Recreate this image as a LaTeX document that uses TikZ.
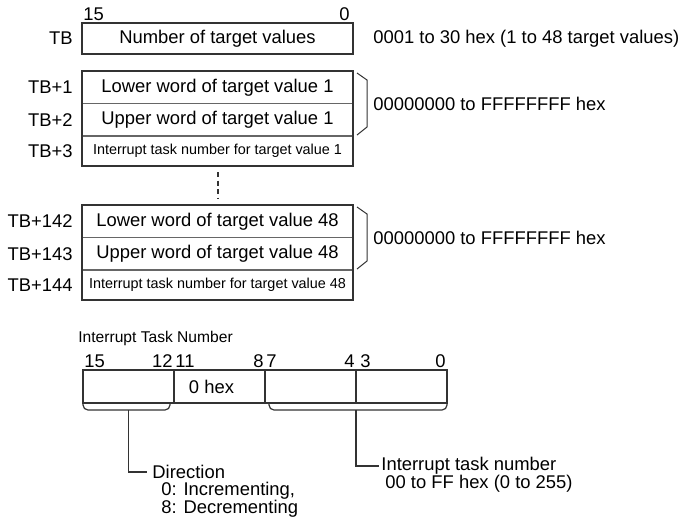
\documentclass[tikz,border=0pt]{standalone}
\usepackage{fontspec}
\setmainfont{Liberation Sans}
\usepackage{xcolor}
\usetikzlibrary{positioning}
\definecolor{lnc}{HTML}{333333}
\definecolor{dvc}{HTML}{666666}

\begin{document}
\begin{tikzpicture}[x=0.5pt, y=-0.5pt,
  cell/.style  = {minimum width=135.5pt, minimum height=16.25pt, inner sep=0pt,
                  outer sep=0pt, font=\fontsize{9.2}{11}\selectfont},
  small/.style = {font=\fontsize{7.2}{9}\selectfont},
  frame/.style = {draw=lnc, line width=1pt},
  divd/.style  = {draw=dvc, line width=0.6pt},
  addr/.style  = {inner sep=1pt, font=\fontsize{9.2}{11}\selectfont},
  note/.style  = {inner sep=1pt, anchor=west, font=\fontsize{9.2}{11}\selectfont},
  bit/.style   = {inner sep=0.5pt, font=\fontsize{9.2}{11}\selectfont},
  brk/.style   = {draw=lnc, line width=0.5pt},
  field/.style = {draw=lnc, line width=0.7pt, minimum width=45.5pt, minimum height=16.5pt,
                  inner sep=0pt, outer sep=0pt, font=\fontsize{9.2}{11}\selectfont},
  brc/.style   = {draw=lnc, line width=0.6pt, rounded corners=2.5pt},
  lead/.style  = {draw=lnc, line width=0.6pt}
]
\useasboundingbox (0,0) rectangle (683,520);

% --- TB : nombre de valeurs ---
\node[cell, frame, minimum height=15.5pt] (tb) at (217.5,38.5) {Number of target values};
\node[bit, anchor=base west] (tbh) at ([yshift=1.5pt]tb.north west) {15};
\node[bit, anchor=base east] (tbl) at ([xshift=-1pt,yshift=1.5pt]tb.north east) {0};
\node[addr, left=3.5pt of tb] (a0) {TB};
\node[note] (cnt) at ([xshift=9pt]tb.east) {0001 to 30 hex (1 to 48 target values)};

% --- valeur cible 1 ---
\node[cell] (lo1) at (217.5,87.25) {Lower word of target value 1};
\node[cell, below=0pt of lo1] (up1) {Upper word of target value 1};
\node[cell, small, below=0pt of up1, minimum height=15pt] (it1) {Interrupt task number for target value 1};
\draw[divd] (lo1.south west) -- (lo1.south east);
\draw[divd] (up1.south west) -- (up1.south east);
\draw[frame] (lo1.north west) rectangle (it1.south east);
\node[addr, left=3.5pt of lo1] (a1) {TB+1};
\node[addr, left=3.5pt of up1] (a2) {TB+2};
\node[addr, left=3.5pt of it1] (a3) {TB+3};
\draw[brk] ([xshift=2pt,yshift=-1pt]lo1.north east) -- ++(5pt,-3.5pt)
  -- ([xshift=7pt,yshift=4.5pt]up1.south east) -- ([xshift=2pt,yshift=0.5pt]up1.south east);
\node[note] (rng1) at ([xshift=9pt]lo1.south east) {00000000 to FFFFFFFF hex};

% --- valeur cible 48 ---
\node[cell] (lo48) at (217.5,221.25) {Lower word of target value 48};
\node[cell, below=0pt of lo48] (up48) {Upper word of target value 48};
\node[cell, small, below=0pt of up48, minimum height=15pt] (it48) {Interrupt task number for target value 48};
\draw[divd] (lo48.south west) -- (lo48.south east);
\draw[divd] (up48.south west) -- (up48.south east);
\draw[frame] (lo48.north west) rectangle (it48.south east);
\node[addr, left=3.5pt of lo48] (a142) {TB+142};
\node[addr, left=3.5pt of up48] (a143) {TB+143};
\node[addr, left=3.5pt of it48] (a144) {TB+144};
\draw[brk] ([xshift=2pt,yshift=-1pt]lo48.north east) -- ++(5pt,-3.5pt)
  -- ([xshift=7pt,yshift=4.5pt]up48.south east) -- ([xshift=2pt,yshift=0.5pt]up48.south east);
\node[note] (rng48) at ([xshift=9pt]lo48.south east) {00000000 to FFFFFFFF hex};

\draw[draw=lnc, line width=1pt, dash pattern=on 2.5pt off 1.75pt,
      shorten <=3pt, shorten >=3.5pt] (it1.south) -- (lo48.north);

% --- numero de tache d'interruption ---
\node[inner sep=0pt, anchor=base west, font=\fontsize{7.8}{9}\selectfont] (ttl) at (78,342) {Interrupt Task Number};
\foreach \i/\t in {1/{},2/{0 hex\hspace*{8pt}},3/{},4/{}} { \node[field] (f\i) at (\i*91+37.5,386.5) {\t}; }
\foreach \i/\l/\r/\s in {1/15/12/0, 2/11/8/0, 3/7/4/0, 4/3/0/1.5} {
  \node[bit, anchor=base west] (bl\i) at ([xshift=\s pt,yshift=1.5pt]f\i.north west) {\l};
  \node[bit, anchor=base east] (br\i) at ([yshift=1.5pt]f\i.north east) {\r};
}

\draw[brc] (f1.south west) -- ++(0,-3.5pt) -- ([xshift=-2pt,yshift=-3.5pt]f1.south east)
  -- ([xshift=-2pt]f1.south east);
\draw[brc] ([xshift=2pt]f3.south west) -- ++(0,-3.5pt) -- ([yshift=-3.5pt]f4.south east)
  -- (f4.south east);
\coordinate (dtk) at ([yshift=-3.5pt]f1.south);
\coordinate (ntk) at ([yshift=-3.5pt]f4.south west);

\node[note] (dir) at (150,472) {Direction};
\node[note] (inc) at (159,491) {0: Incrementing,};
\node[note] (dec) at (159,509) {8: Decrementing};
\node[note] (itn) at (379,466) {Interrupt task number};
\node[note] (itr) at (383,484) {00 to FF hex (0 to 255)};
\draw[lead, shorten >=1.5pt] (dtk) |- (dir.west);
\draw[lead] (ntk) |- (itn.west);
\end{tikzpicture}
\end{document}
